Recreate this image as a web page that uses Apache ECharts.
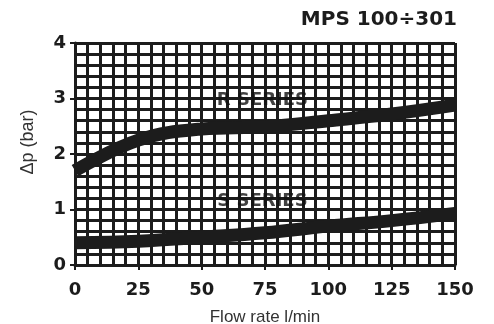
<!DOCTYPE html>
<html>
<head>
<meta charset="utf-8">
<script src="https://cdn.jsdelivr.net/npm/echarts@6/dist/echarts.min.js"></script>
<style>
  html, body { margin: 0; padding: 0; background: #fff; }
  #main { width: 494px; height: 324px; }
</style>
</head>
<body>
<div id="main"></div>
<script>
// flow rate l/min
const flowRate = [0, 25, 50, 75, 100, 125, 150];
// pressure drop (bar)
const rSeries = [1.70, 2.25, 2.45, 2.49, 2.60, 2.72, 2.88];
const sSeries = [0.40, 0.43, 0.50, 0.58, 0.70, 0.80, 0.93];
// where the series names sit (flow, bar)
const rLabelAt = [74, 2.97];
const sLabelAt = [74, 1.15];

const ink = '#1c1c1c';
const boldFont = 'DejaVu Sans';

function pairs(xs, ys) {
    return xs.map((x, i) => [x, ys[i]]);
}

var chartDom = document.getElementById('main');
var myChart = echarts.init(chartDom);

const option = {
    animation: false,
    backgroundColor: '#fff',
    title: {
        text: 'MPS 100÷301',
        right: 37,
        top: 10,
        padding: 0,
        textStyle: { color: ink, fontSize: 20, fontWeight: 'bold', fontFamily: boldFont }
    },
    grid: { left: 75, right: 39, top: 43, bottom: 59, outerBoundsMode: 'none' },
    xAxis: {
        type: 'value',
        min: 0, max: 150, interval: 25,
        name: 'Flow rate l/min',
        nameLocation: 'middle',
        nameGap: 44,
        nameTextStyle: { color: '#333', fontSize: 17, fontFamily: 'Liberation Sans' },
        axisLine: { show: true, lineStyle: { color: ink, width: 3 } },
        axisTick: { show: true, length: 5, lineStyle: { color: ink, width: 2 } },
        axisLabel: { color: ink, fontSize: 18, fontWeight: 'bold', fontFamily: boldFont, margin: 16 },
        splitLine: { show: true, lineStyle: { color: ink, width: 3 } },
        minorTick: { show: false, splitNumber: 5 },
        minorSplitLine: { show: true, lineStyle: { color: ink, width: 3 } }
    },
    yAxis: {
        type: 'value',
        min: 0, max: 4, interval: 1,
        name: 'Δp (bar)',
        nameLocation: 'middle',
        nameGap: 38,
        nameTextStyle: { color: '#333', fontSize: 18, fontFamily: 'Liberation Sans', padding: [0, 0, 0, 24] },
        axisLine: { show: true, lineStyle: { color: ink, width: 3 } },
        axisTick: { show: true, length: 5, lineStyle: { color: ink, width: 2 } },
        axisLabel: { color: ink, fontSize: 18, fontWeight: 'bold', fontFamily: boldFont, margin: 9 },
        splitLine: { show: true, lineStyle: { color: ink, width: 3 } },
        minorTick: { show: false, splitNumber: 5 },
        minorSplitLine: { show: true, lineStyle: { color: ink, width: 3 } }
    },
    series: [
        {
            name: 'R SERIES',
            type: 'line',
            smooth: 0.4,
            symbol: 'none',
            lineStyle: { color: ink, width: 13, cap: 'butt' },
            data: pairs(flowRate, rSeries),
            z: 3
        },
        {
            name: 'S SERIES',
            type: 'line',
            smooth: 0.4,
            symbol: 'none',
            lineStyle: { color: ink, width: 13, cap: 'butt' },
            data: pairs(flowRate, sSeries),
            z: 3
        },
        {
            name: 'labels',
            type: 'scatter',
            symbolSize: 0,
            silent: true,
            z: 5,
            label: {
                show: true,
                position: 'inside',
                color: '#111',
                fontSize: 18,
                fontWeight: 'bold',
                fontFamily: boldFont,
                formatter: p => p.data[2]
            },
            data: [
                [rLabelAt[0], rLabelAt[1], 'R SERIES'],
                [sLabelAt[0], sLabelAt[1], 'S SERIES']
            ]
        }
    ]
};
option && myChart.setOption(option);
</script>
</body>
</html>
